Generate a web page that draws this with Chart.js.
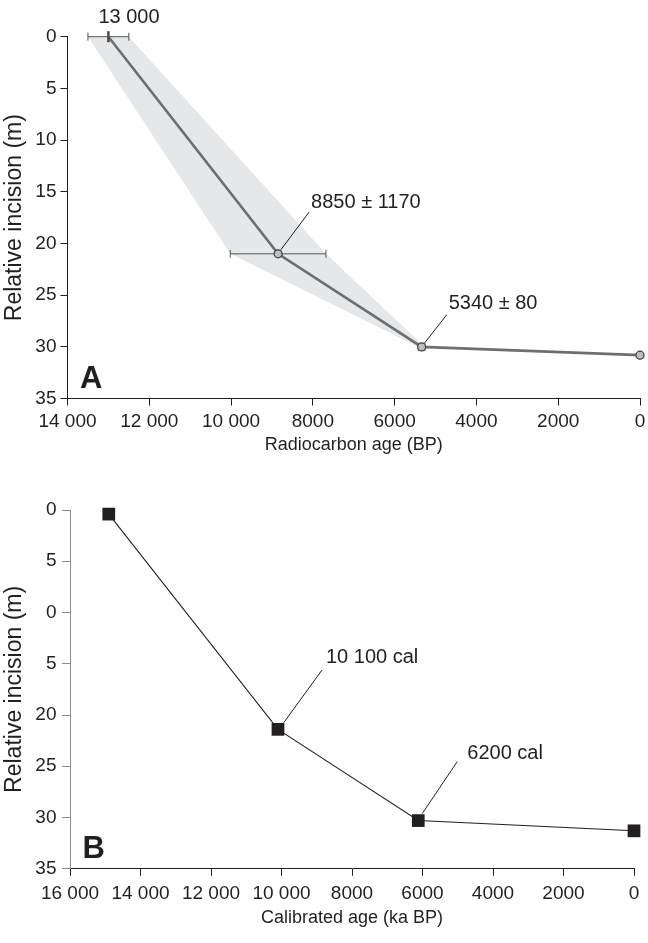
<!DOCTYPE html>
<html>
<head>
<meta charset="utf-8">
<script src="https://cdn.jsdelivr.net/npm/chart.js@4.4.1/dist/chart.umd.min.js"></script>
<style>
  html, body { margin: 0; padding: 0; background: #fff; }
  #wrap { position: relative; width: 648px; height: 943px; }
  canvas { position: absolute; left: 0; }
  #chartA { top: 0; }
  #chartB { top: 470px; }
</style>
</head>
<body>
<div id="wrap">
  <canvas id="chartA" width="648" height="470"></canvas>
  <canvas id="chartB" width="648" height="473"></canvas>
</div>
<script>
// panel A - radiocarbon ages
const radioAges = [13000, 8850, 5340, 0];
const radioErrors = [500, 1170, 80, 0];
const radioDepths = [0, 21, 30, 30.8];
const radioLabels = ['13 000', '8850 \u00b1 1170', '5340 \u00b1 80'];

// panel B - calibrated ages
const calAges = [14900, 10100, 6120, 0];
const calDepths = [0.4, 21.4, 30.3, 31.3];
const calLabels = ['10 100 cal', '6200 cal'];

// tick labels
const radioTickValues = [0, 2000, 4000, 6000, 8000, 10000, 12000, 14000];
const radioTickLabels = ['0', '2000', '4000', '6000', '8000', '10 000', '12 000', '14 000'];
const calTickValues = [0, 2000, 4000, 6000, 8000, 10000, 12000, 14000, 16000];
const calTickLabels = ['0', '2000', '4000', '6000', '8000', '10 000', '12 000', '14 000', '16 000'];
const depthTickValues = [0, 5, 10, 15, 20, 25, 30, 35];
const depthTickLabelsA = ['0', '5', '10', '15', '20', '25', '30', '35'];
const depthTickLabelsB = ['0', '5', '0', '5', '20', '25', '30', '35'];

const FONT = "'Liberation Sans', Arial, Helvetica, sans-serif";
const TEXT = '#231f20';

// text labels, leader lines and panel letter
function makeNotes(items, letter) {
  return {
    id: 'notes',
    afterDatasetsDraw(chart) {
      const { ctx, chartArea } = chart;
      const xs = chart.scales.x, ys = chart.scales.y;
      ctx.save();
      ctx.fillStyle = TEXT;
      ctx.strokeStyle = TEXT;
      ctx.lineWidth = 1;
      ctx.font = '20px ' + FONT;
      ctx.textBaseline = 'middle';
      ctx.textAlign = 'left';
      items.forEach(n => {
        const px = xs.getPixelForValue(n.x);
        const py = ys.getPixelForValue(n.y);
        if (n.line) {
          ctx.beginPath();
          ctx.moveTo(px + n.line[0], py + n.line[1]);
          ctx.lineTo(px + n.line[2], py + n.line[3]);
          ctx.stroke();
        }
        ctx.fillText(n.text, px + n.dx, py + n.dy);
      });
      ctx.font = 'bold 31px ' + FONT;
      ctx.textBaseline = 'alphabetic';
      ctx.fillText(letter, chartArea.left + 12.5, chartArea.bottom - 10.5);
      ctx.restore();
    }
  };
}

function makeScales(o) {
  return {
    x: {
      type: 'linear',
      position: 'bottom',
      reverse: true,
      min: 0,
      max: o.xMax,
      afterBuildTicks: s => { s.ticks = o.xTicks.map(v => ({ value: v })); },
      afterFit: s => { s.height = o.xHeight; },
      border: { display: true, color: o.xColor, width: 1 },
      grid: { display: true, drawOnChartArea: false, drawTicks: true, tickLength: 7, color: o.xColor, lineWidth: 1 },
      ticks: {
        autoSkip: false, maxRotation: 0, minRotation: 0, padding: o.xTickPad,
        color: TEXT, font: { family: FONT, size: 19 },
        callback: v => o.xLabels[o.xTicks.indexOf(v)]
      },
      title: {
        display: true, text: o.xTitle, color: TEXT,
        font: { family: FONT, size: 18 }, padding: { top: 0, bottom: o.xTitlePad }
      }
    },
    y: {
      type: 'linear',
      position: 'left',
      reverse: true,
      min: 0,
      max: 35,
      afterBuildTicks: s => { s.ticks = depthTickValues.map(v => ({ value: v })); },
      afterFit: s => { s.width = o.yWidth; },
      border: { display: true, color: o.yColor, width: 1 },
      grid: { display: true, drawOnChartArea: false, drawTicks: true, tickLength: o.yTick, color: o.yColor, lineWidth: 1 },
      ticks: {
        autoSkip: false, padding: o.yTickPad,
        color: TEXT, font: { family: FONT, size: 19 },
        callback: v => o.yLabels[depthTickValues.indexOf(v)]
      },
      title: {
        display: true, text: 'Relative incision (m)', color: TEXT,
        font: { family: FONT, size: 23 }, padding: { top: o.yTitlePad, bottom: 0 }
      }
    }
  };
}

// ---- chart A ----
const lineA = radioAges.map((a, i) => ({ x: a, y: radioDepths[i] }));

// shaded uncertainty band through the error bar ends
const bandA = [];
for (let i = 0; i < 3; i++) bandA.push({ x: radioAges[i] + radioErrors[i], y: radioDepths[i] });
for (let i = 2; i >= 0; i--) bandA.push({ x: radioAges[i] - radioErrors[i], y: radioDepths[i] });

const errorSets = [];
for (let i = 0; i < 3; i++) {
  errorSets.push({
    data: [{ x: radioAges[i] - radioErrors[i], y: radioDepths[i] }, { x: radioAges[i] + radioErrors[i], y: radioDepths[i] }],
    showLine: true,
    borderColor: '#555555',
    borderWidth: 1,
    pointStyle: 'line',
    pointRotation: 90,
    pointRadius: 4,
    pointBorderWidth: 1,
    pointBorderColor: '#555555',
    clip: false,
    order: 2
  });
}

new Chart(document.getElementById('chartA'), {
  type: 'scatter',
  data: {
    datasets: [
      {
        data: lineA,
        showLine: true,
        borderColor: '#6d6e71',
        borderWidth: 2.6,
        pointStyle: ['line', 'circle', 'circle', 'circle'],
        pointRotation: [90, 0, 0, 0],
        pointRadius: [5.5, 4, 4, 4],
        pointBorderWidth: [2.5, 1.2, 1.2, 1.2],
        pointBorderColor: ['#4a4a4a', '#3c3c3c', '#3c3c3c', '#3c3c3c'],
        pointBackgroundColor: '#bcbec0',
        clip: false,
        order: 1
      },
      ...errorSets,
      {
        data: bandA,
        showLine: true,
        fill: 'shape',
        backgroundColor: '#e6e7e8',
        borderColor: 'rgba(0,0,0,0)',
        borderWidth: 0,
        pointRadius: 0,
        clip: false,
        order: 3
      }
    ]
  },
  options: {
    responsive: false,
    animation: false,
    devicePixelRatio: 1,
    layout: { padding: { top: 36.7, right: 5.3, left: 0, bottom: 0 } },
    plugins: { legend: { display: false }, tooltip: { enabled: false } },
    scales: makeScales({
      xMax: 14000, xTicks: radioTickValues, xLabels: radioTickLabels,
      xHeight: 71.4, xTickPad: 5, xTitle: 'Radiocarbon age (BP)', xTitlePad: 14,
      xColor: '#231f20', yColor: '#231f20', yWidth: 67.5, yTick: 7, yTickPad: 4,
      yLabels: depthTickLabelsA, yTitlePad: 1
    })
  },
  plugins: [makeNotes([
    { x: radioAges[0], y: radioDepths[0], text: radioLabels[0], dx: -10, dy: -19.7 },
    { x: radioAges[1], y: radioDepths[1], text: radioLabels[1], dx: 33, dy: -51.5, line: [2.7, -4, 31, -41.7] },
    { x: radioAges[2], y: radioDepths[2], text: radioLabels[2], dx: 27, dy: -43, line: [2.7, -3.6, 25, -32] }
  ], 'A')]
});

// ---- chart B ----
const lineB = calAges.map((a, i) => ({ x: a, y: calDepths[i] }));

new Chart(document.getElementById('chartB'), {
  type: 'scatter',
  data: {
    datasets: [{
      data: lineB,
      showLine: true,
      borderColor: '#231f20',
      borderWidth: 1.1,
      pointStyle: 'rect',
      pointRadius: 9,
      pointBorderWidth: 0,
      pointBackgroundColor: '#231f20',
      pointBorderColor: '#231f20',
      clip: false
    }]
  },
  options: {
    responsive: false,
    animation: false,
    devicePixelRatio: 1,
    layout: { padding: { top: 40, right: 14, left: 0, bottom: 0 } },
    plugins: { legend: { display: false }, tooltip: { enabled: false } },
    scales: makeScales({
      xMax: 16000, xTicks: calTickValues, xLabels: calTickLabels,
      xHeight: 74.25, xTickPad: 7, xTitle: 'Calibrated age (ka BP)', xTitlePad: 14,
      xColor: '#231f20', yColor: '#8a8a8a', yWidth: 70, yTick: 8, yTickPad: 5.5,
      yLabels: depthTickLabelsB, yTitlePad: 0.8
    })
  },
  plugins: [makeNotes([
    { x: calAges[1], y: calDepths[1], text: calLabels[0], dx: 48, dy: -72, line: [5.7, -6.6, 44, -59.3] },
    { x: calAges[2], y: calDepths[2], text: calLabels[1], dx: 49, dy: -67, line: [4, -7, 39, -59] }
  ], 'B')]
});
</script>
</body>
</html>
